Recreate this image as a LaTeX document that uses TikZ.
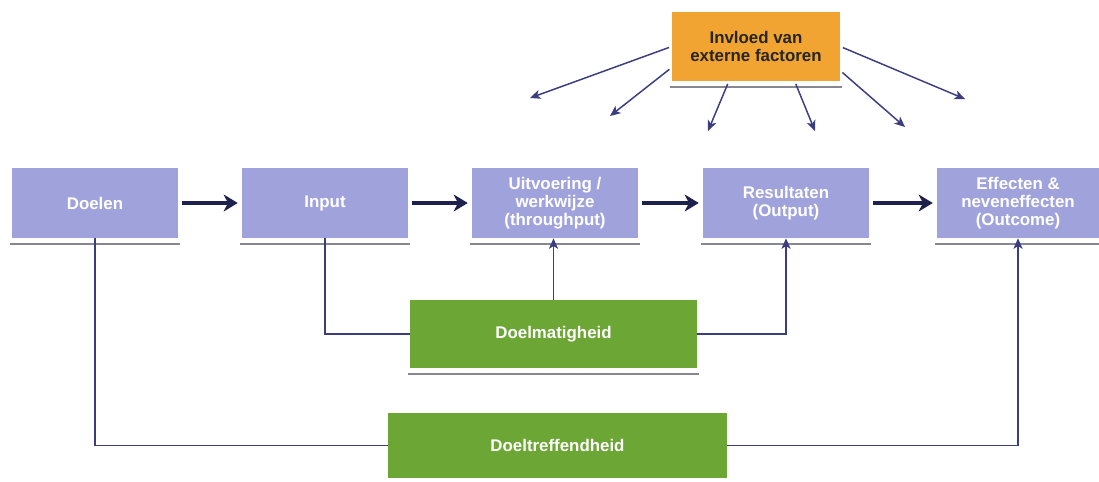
\documentclass[tikz,border=0pt]{standalone}
\usepackage{fontspec}
\setmainfont{Liberation Sans}
\usepackage{tikz}
\usetikzlibrary{arrows.meta}

\definecolor{stepblue}{RGB}{160,163,219}
\definecolor{effgreen}{RGB}{108,166,52}
\definecolor{extorange}{RGB}{241,164,50}
\definecolor{flownavy}{RGB}{30,32,78}
\definecolor{linkblue}{RGB}{58,62,128}
\definecolor{shadegray}{RGB}{135,135,145}

\begin{document}
\begin{tikzpicture}[x=0.025cm,y=-0.025cm,
    boxtext/.style={font=\fontsize{12}{13}\selectfont\bfseries, align=center, inner sep=1pt},
    stepbox/.style={boxtext, fill=stepblue, text=white, minimum width=4.15cm, minimum height=1.75cm},
    greenbox/.style={boxtext, fill=effgreen, text=white, minimum height=1.7cm},
    extbox/.style={boxtext, fill=extorange, text=black!85, minimum width=4.2cm, minimum height=1.725cm},
    underline/.style={draw=shadegray, line width=1.4pt},
    flow/.style={draw=flownavy, line width=2.8pt, -{Stealth[length=10pt,width=12pt,inset=3pt]}, shorten <=2.8pt, shorten >=2.8pt},
    link/.style={draw=linkblue, line width=1.05pt},
    >={Stealth[length=7.5pt,width=6.5pt,inset=2pt]}]

      \useasboundingbox (0,0) rectangle (1099,481);

      \node[stepbox] (doelen) at (95,203) {Doelen};
      \node[stepbox] (input) at (325,203) {Input};
      \node[stepbox] (uitvoering) at (555,203) {Uitvoering /\\werkwijze\\(throughput)};
      \node[stepbox] (resultaten) at (786,203) {Resultaten\\(Output)};
      \node[stepbox, minimum width=4.05cm] (effecten) at (1018,203) {Effecten \&\\neveneffecten\\(Outcome)};

      \node[extbox] (extern) at (756,46.5) {Invloed van\\externe factoren};

      \node[greenbox, minimum width=7.175cm] (doelmatig) at (553.5,334) {Doelmatigheid};
      \node[greenbox, minimum width=8.475cm, minimum height=1.625cm] (doeltreffend) at (557.5,445.5) {Doeltreffendheid};

      \foreach \n in {doelen,input,uitvoering,resultaten,effecten,extern,doelmatig}
        \draw[underline] ([xshift=-1.5pt,yshift=-4pt]\n.south west) -- ([xshift=1.5pt,yshift=-4pt]\n.south east);

      \foreach \a/\b in {doelen/input,input/uitvoering,uitvoering/resultaten,resultaten/effecten}
        \draw[flow] (\a) -- (\b);

      \coordinate (x1) at (530,98);
      \coordinate (x2) at (610,116);
      \coordinate (x3) at (708,131);
      \coordinate (x4) at (815,131);
      \coordinate (x5) at (905,127);
      \coordinate (x6) at (965,99);

      \foreach \ang/\c in {180/x1,194/x2,232/x3,318/x4,344/x5,0/x6}
        \draw[link,->,shorten <=2pt] (extern.\ang) -- (\c);

      \draw[link] (input.south) |- (doelmatig.west);
      \draw[link,->] (doelmatig.north) -- (doelmatig.north |- uitvoering.south);
      \draw[link,->] (doelmatig.east) -| (resultaten.south);

      \draw[link] (doelen.south) |- (doeltreffend.west);
      \draw[link,->] (doeltreffend.east) -| (effecten.south);
\end{tikzpicture}
\end{document}
